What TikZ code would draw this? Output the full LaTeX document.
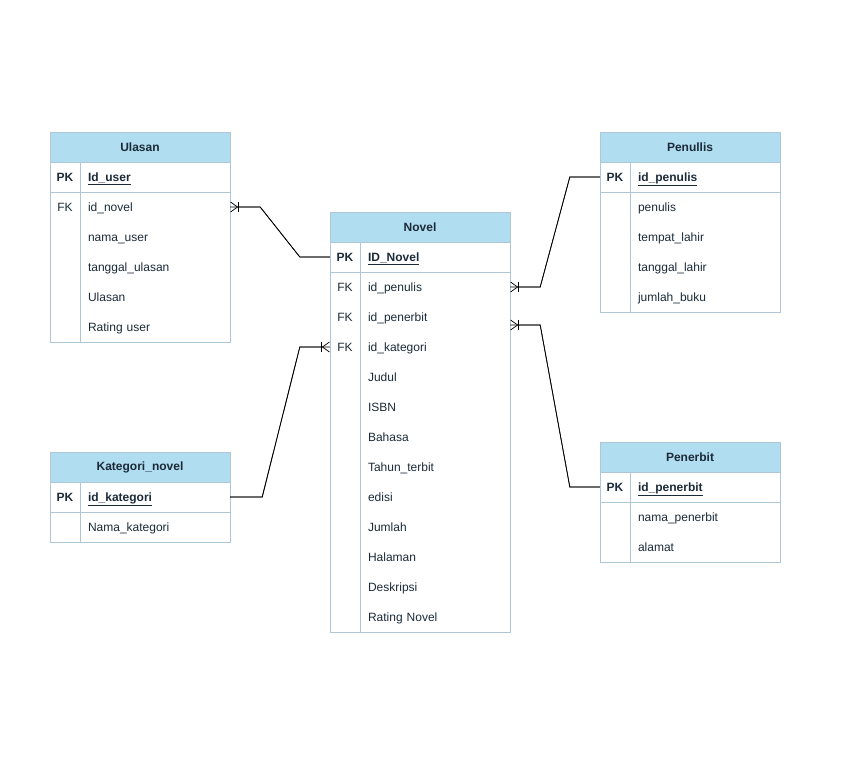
\documentclass[tikz,border=0pt]{standalone}
\usepackage{fontspec}
\setmainfont{Liberation Sans}
\usetikzlibrary{arrows.meta,calc}
\definecolor{tblhead}{HTML}{B1DDF0}
\definecolor{tblline}{HTML}{AFC6D6}
\definecolor{tbltext}{HTML}{1B2A38}
\begin{document}
\begin{tikzpicture} [
                x=1pt, y=-1pt,
                font=\fontsize{12}{14}\selectfont,
                every node/.style={text=tbltext},
                head/.style={draw=tblline,fill=tblhead,minimum width=180pt,minimum height=30pt,inner sep=0pt,font=\fontsize{12}{14}\selectfont\bfseries},
                keycol/.style={minimum width=30pt,minimum height=30pt,inner sep=0pt,text height=10pt,text depth=2pt},
                field/.style={minimum width=150pt,minimum height=30pt,text width=134pt,inner xsep=8pt,inner ysep=0pt,align=left,text height=10pt,text depth=2pt},
                border/.style={draw=tblline,line width=0.8pt},
                rel/.style={draw,line width=0.7pt,-{Bar[width=10pt]Straight Barb[reversed,length=7pt,width=10pt]},postaction={draw,-}},
            ]
            \useasboundingbox (0,0) rectangle (850,760);
            % Ulasan
            \node[head] (ula) at (140,147) {Ulasan};
            \foreach \k/\txt [count=\i] in {
                    \textbf{PK}/\underline{\textbf{Id\_user}},
                    FK/id\_novel,
                    /nama\_user,
                    /tanggal\_ulasan,
                    /Ulasan,
                    /Rating user}
                {
                \node[keycol] (ula-k\i) at (65,147+30*\i) {\k};
                \node[field] (ula-f\i) at (155,147+30*\i) {\txt};
                }
            \draw[border] (50,132) rectangle (230,342);
            \draw[border] (50,192) -- (230,192) (80,162) -- (80,342);
            % Novel
            \node[head] (nov) at (420,227) {Novel};
            \foreach \k/\txt [count=\i] in {
                    \textbf{PK}/\underline{\textbf{ID\_Novel}},
                    FK/id\_penulis,
                    FK/id\_penerbit,
                    FK/id\_kategori,
                    /Judul,
                    /ISBN,
                    /Bahasa,
                    /Tahun\_terbit,
                    /edisi,
                    /Jumlah,
                    /Halaman,
                    /Deskripsi,
                    /Rating Novel}
                {
                \node[keycol] (nov-k\i) at (345,227+30*\i) {\k};
                \node[field] (nov-f\i) at (435,227+30*\i) {\txt};
                }
            \draw[border] (330,212) rectangle (510,632);
            \draw[border] (330,272) -- (510,272) (360,242) -- (360,632);
            % Penullis
            \node[head] (pen) at (690,147) {Penullis};
            \foreach \k/\txt [count=\i] in {
                    \textbf{PK}/\underline{\textbf{id\_penulis}},
                    /penulis,
                    /tempat\_lahir,
                    /tanggal\_lahir,
                    /jumlah\_buku}
                {
                \node[keycol] (pen-k\i) at (615,147+30*\i) {\k};
                \node[field] (pen-f\i) at (705,147+30*\i) {\txt};
                }
            \draw[border] (600,132) rectangle (780,312);
            \draw[border] (600,192) -- (780,192) (630,162) -- (630,312);
            % Kategori_novel
            \node[head] (kat) at (140,467) {Kategori\_novel};
            \foreach \k/\txt [count=\i] in {
                    \textbf{PK}/\underline{\textbf{id\_kategori}},
                    /Nama\_kategori}
                {
                \node[keycol] (kat-k\i) at (65,467+30*\i) {\k};
                \node[field] (kat-f\i) at (155,467+30*\i) {\txt};
                }
            \draw[border] (50,452) rectangle (230,542);
            \draw[border] (50,512) -- (230,512) (80,482) -- (80,542);
            % Penerbit
            \node[head] (pnb) at (690,457) {Penerbit};
            \foreach \k/\txt [count=\i] in {
                    \textbf{PK}/\underline{\textbf{id\_penerbit}},
                    /nama\_penerbit,
                    /alamat}
                {
                \node[keycol] (pnb-k\i) at (615,457+30*\i) {\k};
                \node[field] (pnb-f\i) at (705,457+30*\i) {\txt};
                }
            \draw[border] (600,442) rectangle (780,562);
            \draw[border] (600,502) -- (780,502) (630,472) -- (630,562);
            % Relations
            \path[rel] (nov-k1.west) -- ++(-30,0) -- ($(ula-f2.east)+(30,0)$) -- (ula-f2.east);
            \path[rel] (pen-k1.west) -- ++(-30,0) -- ($(nov-f2.east)+(30,0)$) -- (nov-f2.east);
            \path[rel] (kat-f1.east) -- ++(32,0) -- ($(nov-k4.west)+(-30,0)$) -- (nov-k4.west);
            \path[rel] (pnb-k1.west) -- ++(-30,0) -- ($(nov-f3.east)+(30,8)$) -- ($(nov-f3.east)+(0,8)$);
        \end{tikzpicture}
\end{document}
